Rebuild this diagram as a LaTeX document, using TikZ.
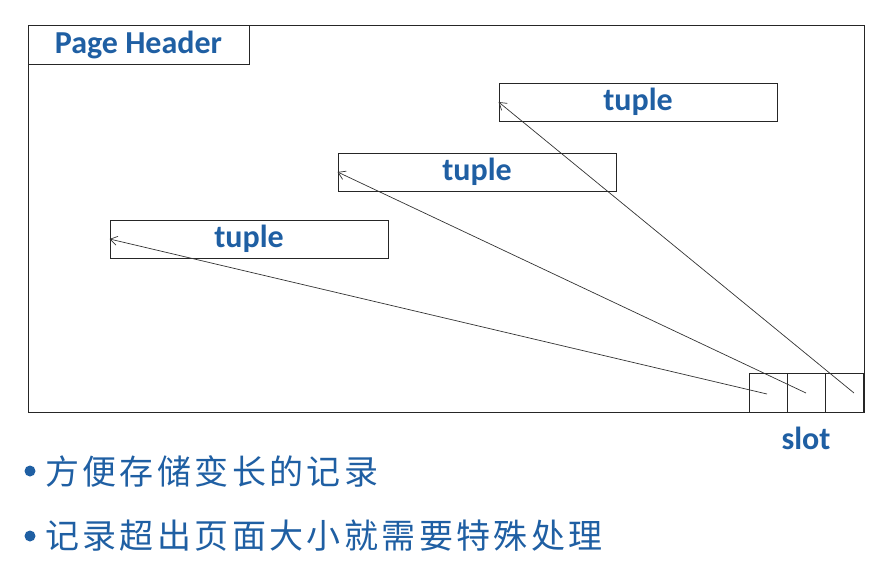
\documentclass[tikz,border=0pt]{standalone}
\usepackage{fontspec}
\newfontfamily\labelfont{Carlito}
\newfontfamily\cjkfont[LetterSpace=10]{Noto Sans CJK SC}
\usepackage{tikz}
\usetikzlibrary{arrows.meta, positioning}
\definecolor{slideblue}{HTML}{1F5FA3}

\begin{document}
\begin{tikzpicture}[x=1pt,y=-1pt,
        box/.style={draw=black!85, line width=0.9pt, minimum width=278pt, minimum height=38pt, inner sep=0pt},
        lbl/.style={font=\labelfont\bfseries\fontsize{32}{38}\selectfont, text=slideblue},
        cell/.style={draw=black!85, line width=0.9pt, minimum width=38pt, minimum height=39pt, inner sep=0pt},
        ptr/.style={-{Straight Barb[length=7pt,width=9pt]}, line width=0.7pt, draw=black!80},
        note/.style={anchor=west, inner sep=0pt, text=slideblue, font=\cjkfont\fontsize{34}{42}\selectfont}]

        \useasboundingbox (0,0) rectangle (893,567);

        % Page frame
        \draw[line width=0.9pt, black!85] (28,25) rectangle (864,412);

        % Page header
        \node[box, lbl, minimum width=221pt, minimum height=39pt] (header) at (138.5,44.5) {Page Header};

        % Tuples
        \node[box, lbl] (tup1) at (638,102) {tuple};
        \node[box, lbl] (tup2) at (477,172) {tuple};
        \node[box, lbl] (tup3) at (249,239) {tuple};

        % Slot array
        \foreach \x/\n in {768/1, 806/2, 844.5/3}
            \node[cell] (cell\n) at (\x,392.5) {};
        \node[lbl] (slot) at (806,438) {slot};

        % Pointers from slots to tuples
        \coordinate (s1) at (767,394);
        \coordinate (s2) at (806,393);
        \coordinate (s3) at (854,393);
        \draw[ptr] (s1) -- (tup3.west);
        \draw[ptr] (s2) -- (tup2.west);
        \draw[ptr] (s3) -- (tup1.west);

        % Notes
        \fill[slideblue] (30,471) circle (5.5);
        \node[note] (note1) at (45,471) {方便存储变长的记录};
        \fill[slideblue] (30,536) circle (5.5);
        \node[note] (note2) at (45,536) {记录超出页面大小就需要特殊处理};

\end{tikzpicture}
\end{document}
